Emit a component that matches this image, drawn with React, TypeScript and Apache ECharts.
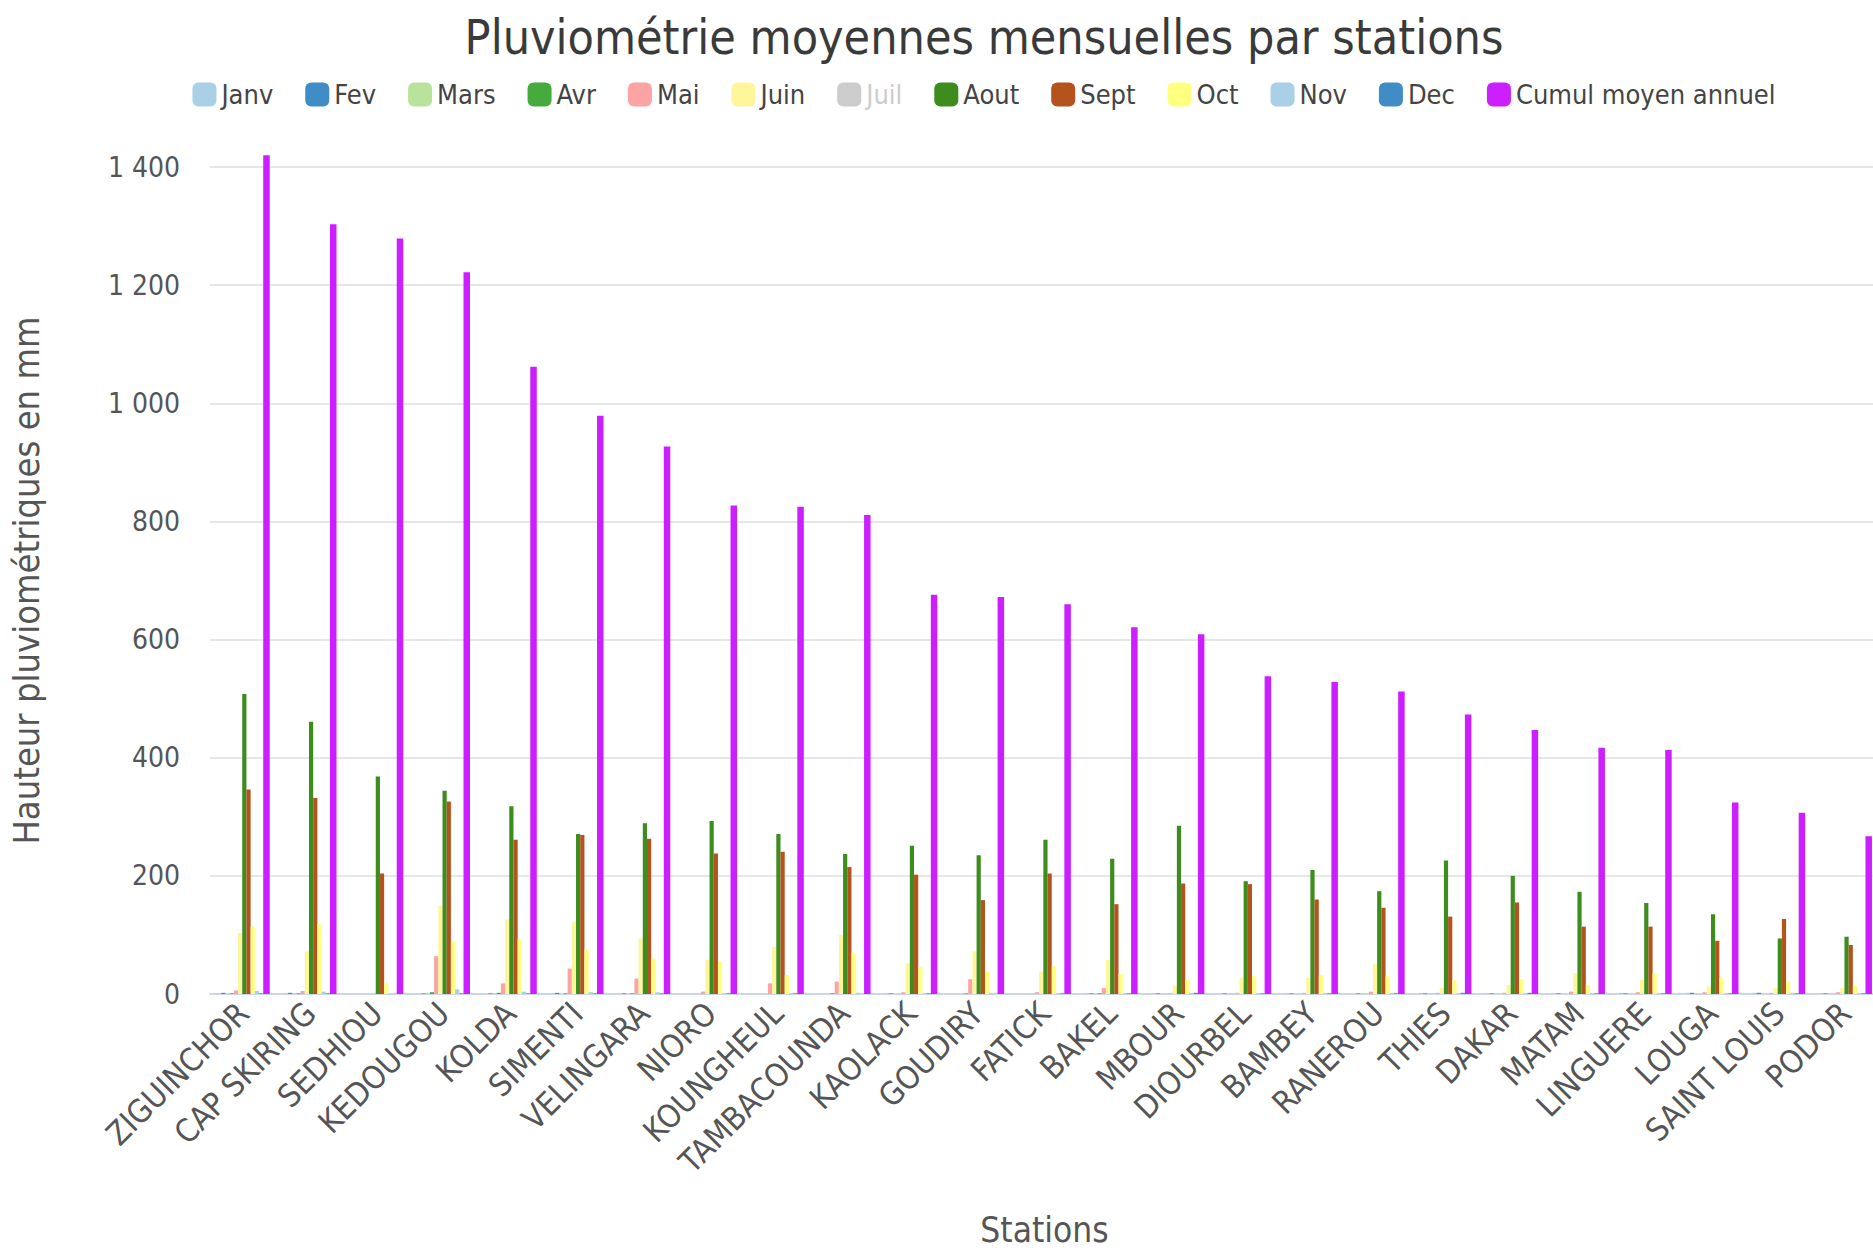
import React, { useEffect, useRef } from "react";
import * as echarts from "echarts";

const stations = [
  "ZIGUINCHOR", "CAP SKIRING", "SEDHIOU", "KEDOUGOU", "KOLDA", "SIMENTI", "VELINGARA",
  "NIORO", "KOUNGHEUL", "TAMBACOUNDA", "KAOLACK", "GOUDIRY", "FATICK", "BAKEL", "MBOUR",
  "DIOURBEL", "BAMBEY", "RANEROU", "THIES", "DAKAR", "MATAM", "LINGUERE", "LOUGA",
  "SAINT LOUIS", "PODOR",
];

const janv = [1, 1, 0, 0, 0, 1, 0, 0, 0, 0, 1, 0, 0, 1, 1, 0, 1, 0, 1, 1, 1, 2, 2, 2, 1];
const fev = [2, 2, 0, 1, 1, 2, 1, 0, 0, 0, 1, 0, 0, 1, 1, 1, 1, 1, 1, 1, 1, 1, 2, 2, 1];
const mars = [0, 0, 0, 1, 0, 0, 0, 0, 0, 0, 0, 0, 0, 0, 0, 0, 0, 1, 0, 0, 0, 0, 0, 0, 0];
const avr = [1, 1, 0, 3, 2, 1, 1, 0, 0, 1, 0, 1, 0, 1, 0, 0, 0, 0, 0, 0, 0, 0, 0, 0, 0];
const mai = [6, 5, 0, 64, 18, 43, 26, 4, 18, 21, 3, 25, 3, 10, 1, 2, 2, 4, 2, 2, 4, 3, 3, 2, 3];
const juin = [103, 72, 0, 150, 126, 122, 94, 58, 80, 100, 52, 72, 38, 58, 14, 27, 27, 51, 10, 15, 35, 24, 13, 10, 10];
const juil = [333, 305, 320, 290, 240, 215, 200, 170, 165, 170, 135, 160, 130, 135, 110, 115, 110, 95, 85, 60, 70, 75, 55, 50, 50];
const aout = [508, 461, 368, 344, 318, 271, 289, 293, 271, 237, 251, 235, 261, 229, 285, 191, 210, 174, 226, 200, 173, 154, 135, 94, 97];
const sept = [346, 332, 204, 326, 261, 269, 263, 238, 241, 215, 202, 159, 204, 152, 187, 186, 160, 146, 131, 155, 114, 114, 90, 127, 83];
const oct = [114, 118, 18, 89, 93, 75, 60, 55, 32, 70, 46, 38, 47, 34, 25, 30, 32, 30, 23, 25, 15, 35, 27, 21, 14];
const nov = [5, 4, 0, 8, 4, 3, 3, 1, 1, 2, 1, 1, 1, 1, 1, 1, 1, 1, 1, 1, 1, 1, 1, 1, 1];
const dec = [1, 1, 0, 1, 1, 1, 1, 1, 1, 0, 1, 0, 1, 1, 2, 1, 1, 1, 2, 2, 1, 1, 1, 1, 1];
const cumul = [1420, 1303, 1279, 1222, 1062, 979, 927, 827, 825, 811, 676, 672, 660, 621, 609, 538, 528, 512, 473, 447, 417, 413, 324, 307, 267];

const seriesNames = ["Janv", "Fev", "Mars", "Avr", "Mai", "Juin", "Juil", "Aout", "Sept", "Oct", "Nov", "Dec", "Cumul moyen annuel"];
const seriesData = [janv, fev, mars, avr, mai, juin, juil, aout, sept, oct, nov, dec, cumul];
const seriesColors = ["#a9d0e6", "#3f8cc6", "#b9e39a", "#46ab3c", "#fba4a3", "#fff59a", "#dcc49c", "#3c8c1e", "#b5531f", "#ffff80", "#a9d0e6", "#3f8cc6", "#cc1fff"];

const yTicks = { min: 0, max: 1400, interval: 200 };

const FONT = "'DejaVu Sans Condensed', 'DejaVu Sans', sans-serif";

export default function App() {
  const ref = useRef<HTMLDivElement>(null);
  useEffect(() => {
    if (!ref.current) return;
    const chart = echarts.init(ref.current, undefined, { renderer: "svg" });
    chart.setOption({
      animation: false,
      backgroundColor: "#ffffff",
      textStyle: { fontFamily: FONT },
      title: {
        text: "Pluviométrie moyennes mensuelles par stations",
        left: "center",
        top: 8,
        textStyle: { fontFamily: FONT, fontSize: 48, fontWeight: "normal", color: "#3a3a3a" },
      },
      legend: {
        top: 76,
        left: "center",
        itemWidth: 24,
        itemHeight: 24,
        itemGap: 32,
        icon: "roundRect",
        inactiveColor: "#cccccc",
        textStyle: { fontFamily: FONT, fontSize: 27, color: "#444444" },
        data: seriesNames,
        selected: { Juil: false },
      },
      grid: { left: 209, right: 89, top: 167, bottom: 258, containLabel: false },
      xAxis: {
        type: "category",
        data: stations,
        name: "Stations",
        nameLocation: "middle",
        nameGap: 218,
        nameTextStyle: { fontFamily: FONT, fontSize: 35, color: "#555555" },
        axisLine: { lineStyle: { color: "#ccd6eb", width: 2 } },
        axisTick: { alignWithLabel: true, length: 10, lineStyle: { color: "#999999" } },
        axisLabel: { rotate: 45, interval: 0, margin: 14, fontFamily: FONT, fontSize: 32, color: "#555555" },
      },
      yAxis: {
        type: "value",
        min: yTicks.min,
        max: yTicks.max,
        interval: yTicks.interval,
        name: "Hauteur pluviométriques en mm",
        nameLocation: "middle",
        nameGap: 166,
        nameTextStyle: { fontFamily: FONT, fontSize: 36, color: "#555555" },
        axisLine: { show: false },
        axisTick: { show: false },
        splitLine: { lineStyle: { color: "#e6e6e6", width: 2 } },
        axisLabel: {
          margin: 30,
          fontFamily: FONT,
          fontSize: 28,
          color: "#555555",
          formatter: (v: number) => String(v).replace(/\B(?=(\d{3})+(?!\d))/g, " "),
        },
      },
      series: seriesNames.map((name, i) => ({
        name,
        type: "bar",
        data: seriesData[i],
        barWidth: i === 12 ? 6.5 : 4.2,
        barGap: "0%",
        clip: false,
        itemStyle: { color: seriesColors[i] },
        emphasis: { disabled: true },
      })),
    });
    return () => chart.dispose();
  }, []);
  return (
    <div style={{ position: "absolute", left: 0, top: 0, width: 1873, height: 1252, overflow: "hidden", background: "#fff" }}>
      <div ref={ref} style={{ width: 1968, height: 1252 }} />
    </div>
  );
}
